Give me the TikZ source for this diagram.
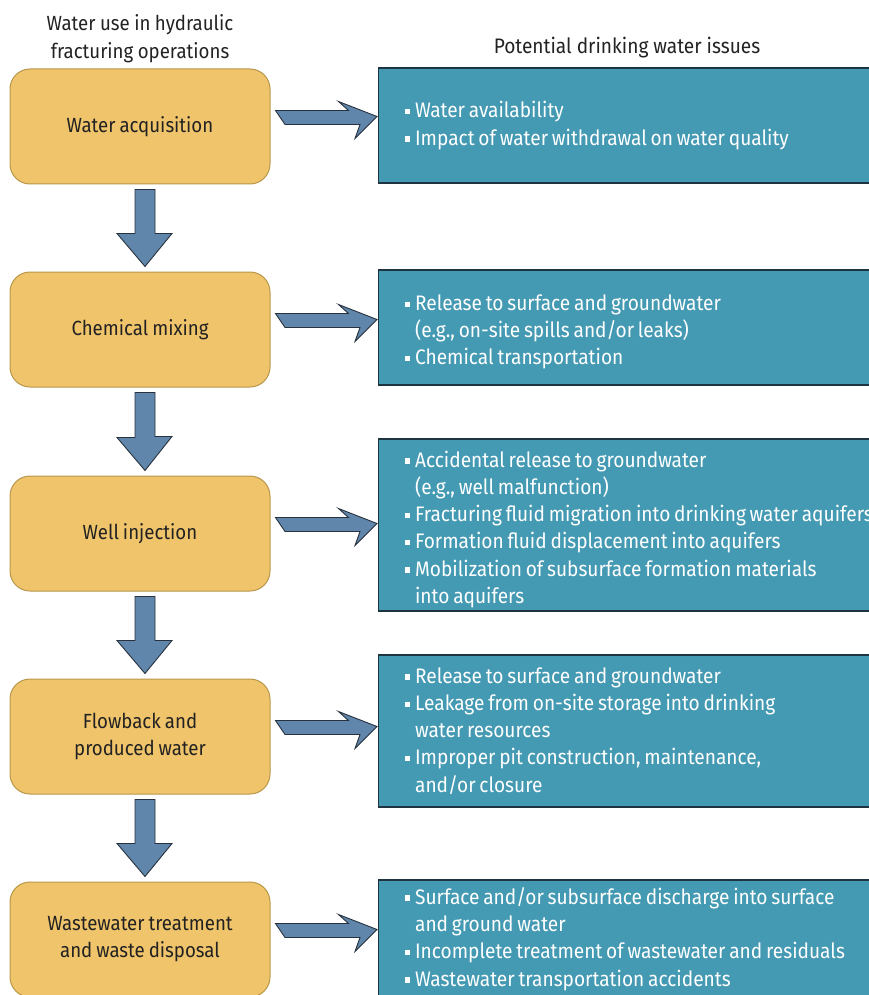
\documentclass[tikz,border=0pt]{standalone}
\usepackage{fontspec}
\setmainfont[FakeStretch=0.91]{Fira Sans}
\usetikzlibrary{calc}
\definecolor{boxY}{HTML}{F0C46B}
\definecolor{boxYb}{HTML}{B8964A}
\definecolor{boxT}{HTML}{4499B3}
\definecolor{boxTb}{HTML}{1E3440}
\definecolor{arrF}{HTML}{6186AB}
\definecolor{arrB}{HTML}{28323E}
\definecolor{txt}{HTML}{222222}
\newcommand\bul{\makebox[10.5pt][l]{\raisebox{3.5pt}{\rule{5.5pt}{5.5pt}}}}
\newcommand\ind{\hspace*{10.5pt}}
\newcommand\tallstrut{\rule{0pt}{25pt}}
\newlength\myspL \setlength\myspL{4pt}
\newlength\myspR \setlength\myspR{3.8pt}
\newlength\myspH \setlength\myspH{4.5pt}
\newlength\myspT \setlength\myspT{5pt}
\newcommand\rsp{\spaceskip\myspR\xspaceskip\myspR\relax}
\newcommand\lfnt{\fontsize{20.5}{27}\selectfont\spaceskip\myspL}
\newcommand\rfnt{\fontsize{21}{27.2}\selectfont}
\newcommand\hfnt{\fontsize{20.5}{28}\selectfont\spaceskip\myspH}
\newcommand\tfnt{\fontsize{21}{26}\selectfont\spaceskip\myspT}
\begin{document}
\begin{tikzpicture}[x=1pt,y=-1pt,
  lbox/.style={draw=boxYb,fill=boxY,line width=1pt,rounded corners=20pt,minimum width=260pt,minimum height=115pt,inner sep=0pt,align=center,text=txt,font=\lfnt},
  rbox/.style={draw=boxTb,fill=boxT,line width=1.2pt,anchor=west,inner xsep=26pt,inner ysep=0pt,text width=520pt,align=left,text=white,font=\rfnt},
  head/.style={text=txt,align=center,font=\hfnt},
  arr/.style={draw=arrB,fill=arrF,line width=0.9pt,line join=miter}]
\useasboundingbox (0,0) rectangle (869,995);
\clip (0,0) rectangle (869,995);

\node[head] (t1) at (140,38.5) {Water use in hydraulic\\fracturing operations};
\node[head,font=\tfnt] (t2) at (627,48) {Potential drinking water issues};

\node[lbox] (l1) at (140,126.5) {Water acquisition};
\node[lbox] (l2) at (140,329.5) {Chemical mixing};
\node[lbox] (l3) at (140,533.5) {Well injection};
\node[lbox] (l4) at (140,736.5) {Flowback and\\produced water};
\node[lbox] (l5) at (140,939.5) {Wastewater treatment\\and waste disposal};

\node[rbox,minimum height=115pt] (r1) at (378,125.5) {\rsp\bul Water availability\\\bul Impact of water withdrawal on water quality};
\node[rbox,minimum height=115pt] (r2) at (378,327.5) {\rsp\tallstrut\bul Release to surface and groundwater\\\ind (e.g., on-site spills and/or leaks)\\\bul Chemical transportation};
\node[rbox,minimum height=172pt] (r3) at (378,525) {\rsp\tallstrut\bul Accidental release to groundwater\\\ind (e.g., well malfunction)\\\bul Fracturing fluid migration into drinking water aquifers\\\bul Formation fluid displacement into aquifers\\\bul Mobilization of subsurface formation materials\\\ind into aquifers};
\node[rbox,minimum height=152pt] (r4) at (378,731) {\rsp\bul Release to surface and groundwater\\\bul Leakage from on-site storage into drinking\\\ind water resources\\\bul Improper pit construction, maintenance,\\\ind and/or closure};
\node[rbox,minimum height=118pt] (r5) at (378,939) {\rsp\bul Surface and/or subsurface discharge into surface\\\ind and ground water\\\bul Incomplete treatment of wastewater and residuals\\\bul Wastewater transportation accidents};

\foreach \a/\b in {l1/l2,l2/l3,l3/l4,l4/l5}{
  \draw[arr] ([shift={(-5,5)}]\a.south) -- ++(20,0) -- ++(0,44) -- ++(17,0) -- ([shift={(5,-5)}]\b.north) -- ([shift={(-23,-38)}]\b.north) -- ++(18,0) -- cycle;
}
\foreach \a/\b in {l1/r1,l2/r2,l3/r3,l4/r4,l5/r5}{
  \draw[arr] ([shift={(5,-16)}]\a.east) -- ++(73,0) -- ++(-10,-9) -- ([shift={(-1,-10)}]\b.west |- \a.east) -- ++(-22,22) -- ++(5,-14) -- ++(-75,0) -- cycle;
}
\end{tikzpicture}
\end{document}
